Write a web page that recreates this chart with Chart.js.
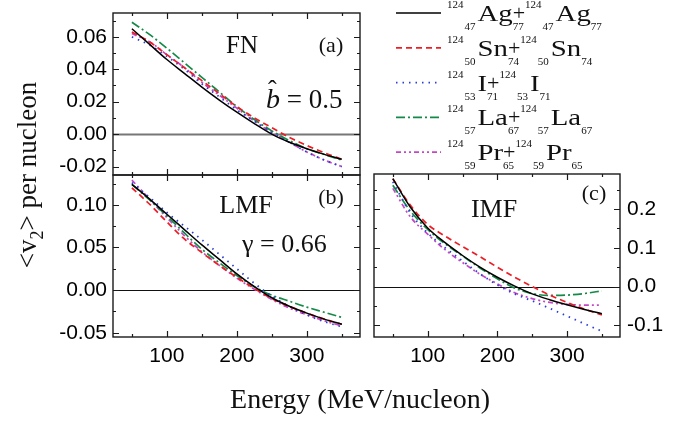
<!DOCTYPE html>
<html>
<head>
<meta charset="utf-8">
<script src="https://cdn.jsdelivr.net/npm/chart.js@4.4.1/dist/chart.umd.min.js"></script>
<style>
  html, body { margin: 0; padding: 0; background: #fff; }
  #wrap { position: relative; width: 689px; height: 421px; }
  #wrap canvas { position: absolute; left: 0; top: 0; }
</style>
</head>
<body>
<div id="wrap">
  <canvas id="panelA" width="689" height="421"></canvas>
  <canvas id="panelB" width="689" height="421"></canvas>
  <canvas id="panelC" width="689" height="421"></canvas>
</div>
<script>
// beam energy (MeV/nucleon)
const ENERGY = [50, 75, 100, 125, 150, 175, 200, 225, 250, 275, 300, 325, 350]

// systems: 124 X + 124 X
const SYMBOLS = ['Ag', 'Sn', 'I', 'La', 'Pr']
const PROTONS = [47, 50, 53, 57, 59]
const NEUTRONS = [77, 74, 71, 67, 65]
const MASS = 124

// (a) FN, b = 0.5
const FN_AG = [0.065, 0.0555, 0.046, 0.0375, 0.029, 0.021, 0.0135, 0.0065, 0.0, -0.005, -0.009, -0.0125, -0.0155]
const FN_SN = [0.063, 0.057, 0.049, 0.041, 0.033, 0.025, 0.017, 0.010, 0.004, -0.002, -0.007, -0.0115, -0.0155]
const FN_I = [0.060, 0.055, 0.048, 0.040, 0.031, 0.023, 0.015, 0.008, 0.001, -0.005, -0.011, -0.016, -0.020]
const FN_LA = [0.069, 0.0615, 0.053, 0.044, 0.035, 0.026, 0.017, 0.009, 0.002, -0.004, -0.009, -0.0125, -0.016]
const FN_PR = [0.062, 0.057, 0.049, 0.041, 0.032, 0.024, 0.016, 0.008, 0.001, -0.005, -0.011, -0.016, -0.020]

// (b) LMF, gamma = 0.66
const LMF_AG = [0.124, 0.107, 0.089, 0.071, 0.053, 0.036, 0.019, 0.004, -0.009, -0.019, -0.027, -0.034, -0.040]
const LMF_SN = [0.120, 0.101, 0.080, 0.060, 0.044, 0.029, 0.015, 0.002, -0.010, -0.019, -0.027, -0.034, -0.040]
const LMF_I = [0.126, 0.109, 0.091, 0.075, 0.059, 0.042, 0.025, 0.008, -0.007, -0.019, -0.029, -0.037, -0.043]
const LMF_LA = [0.124, 0.106, 0.087, 0.067, 0.048, 0.032, 0.017, 0.004, -0.006, -0.013, -0.020, -0.026, -0.032]
const LMF_PR = [0.129, 0.107, 0.085, 0.064, 0.045, 0.029, 0.014, 0.001, -0.011, -0.021, -0.029, -0.036, -0.042]

// (c) IMF
const IMF_AG = [0.278, 0.205, 0.151, 0.113, 0.080, 0.050, 0.024, 0.001, -0.019, -0.034, -0.047, -0.059, -0.070]
const IMF_SN = [0.278, 0.210, 0.160, 0.130, 0.103, 0.077, 0.050, 0.024, 0.000, -0.022, -0.041, -0.058, -0.073]
const IMF_I = [0.270, 0.190, 0.138, 0.100, 0.066, 0.033, 0.004, -0.019, -0.037, -0.056, -0.076, -0.096, -0.115]
const IMF_LA = [0.261, 0.195, 0.147, 0.110, 0.079, 0.048, 0.020, -0.004, -0.018, -0.023, -0.022, -0.018, -0.011]
const IMF_PR = [0.253, 0.180, 0.135, 0.095, 0.062, 0.032, 0.007, -0.016, -0.031, -0.041, -0.046, -0.048, -0.048]

// line styles, one per system
const COLORS = ['#000000', '#ee1c25', '#2a3fd6', '#138a48', '#c447c4']
const DASHES = [[], [6, 4], [1.5, 5], [9, 3, 2, 3], [5, 3, 2, 3, 2, 3]]
const WIDTHS = [1.5, 1.7, 1.8, 1.7, 1.7]

const SANS = '"Liberation Sans", Arial, sans-serif'
const SERIF = '"Liberation Serif", "Times New Roman", serif'

Chart.defaults.font.family = SANS
Chart.defaults.color = '#000'

function buildSets(rows) {
  return rows.map((vals, i) => ({
    label: `${MASS}${SYMBOLS[i]}+${MASS}${SYMBOLS[i]}`,
    data: ENERGY.map((e, j) => ({x: e, y: vals[j]})),
    borderColor: COLORS[i],
    borderDash: DASHES[i],
    borderWidth: WIDTHS[i],
    pointRadius: 0,
    fill: false,
    cubicInterpolationMode: 'monotone',
  }))
}

function fixSize(horizontal, size) {
  return s => {
    if (horizontal) s.height = size
    else s.width = size
    s.paddingTop = s.paddingBottom = s.paddingLeft = s.paddingRight = 0
  }
}

// box, inward major/minor ticks on all four sides, zero line
const framePlugin = {
  id: 'frame',
  beforeDatasetsDraw(chart, args, opts) {
    const {ctx, chartArea: a, scales: {y}} = chart
    const y0 = Math.round(y.getPixelForValue(0)) + 0.5
    ctx.save()
    ctx.strokeStyle = opts.zeroColor
    ctx.lineWidth = opts.zeroWidth
    ctx.beginPath()
    ctx.moveTo(a.left, y0)
    ctx.lineTo(a.right, y0)
    ctx.stroke()
    ctx.restore()
  },
  afterDatasetsDraw(chart) {
    const {ctx, chartArea: a, scales: {x, y}} = chart
    ctx.save()
    ctx.strokeStyle = '#1a1a1a'
    ctx.lineWidth = 1.4
    ctx.strokeRect(a.left, a.top, a.right - a.left, a.bottom - a.top)
    ctx.lineWidth = 1.2
    ctx.beginPath()
    x.ticks.forEach(t => {
      const px = Math.round(x.getPixelForValue(t.value)) + 0.5
      const len = t.label ? 6 : 3
      ctx.moveTo(px, a.bottom)
      ctx.lineTo(px, a.bottom - len)
      ctx.moveTo(px, a.top)
      ctx.lineTo(px, a.top + len)
    })
    y.ticks.forEach(t => {
      const py = Math.round(y.getPixelForValue(t.value)) + 0.5
      const len = t.label ? 6 : 3
      ctx.moveTo(a.left, py)
      ctx.lineTo(a.left + len, py)
      ctx.moveTo(a.right, py)
      ctx.lineTo(a.right - len, py)
    })
    ctx.stroke()
    ctx.restore()
  },
}

// free text inside panels
const notesPlugin = {
  id: 'notes',
  afterDraw(chart, args, opts) {
    const {ctx} = chart
    ctx.save()
    ctx.fillStyle = '#111'
    ;(opts.items || []).forEach(n => {
      ctx.font = n.font
      ctx.textAlign = n.align || 'left'
      ctx.textBaseline = 'alphabetic'
      ctx.fillText(n.text, n.x, n.y)
    })
    ctx.restore()
  },
}

function piece(ctx, text, x, y, font, sx = 1) {
  ctx.font = font
  const w = ctx.measureText(text).width * sx
  ctx.save()
  ctx.translate(x, y)
  ctx.scale(sx, 1)
  ctx.fillText(text, 0, 0)
  ctx.restore()
  return w
}

function nuclide(ctx, x, base, i) {
  const small = `11px ${SERIF}`
  const big = `24px ${SERIF}`
  x += piece(ctx, String(MASS), x, base - 13, small) + 1
  x += piece(ctx, String(PROTONS[i]), x, base + 9, small) + 2
  x += piece(ctx, SYMBOLS[i], x, base, big, 1.2)
  return x
}

// legend, axis titles, b-hat label
const pagePlugin = {
  id: 'page',
  afterDraw(chart) {
    const {ctx} = chart
    ctx.save()
    ctx.fillStyle = '#111'
    ctx.textBaseline = 'alphabetic'
    ctx.textAlign = 'left'
    chart.data.datasets.forEach((ds, i) => {
      const ly = 13 + i * 34.8
      ctx.save()
      ctx.strokeStyle = ds.borderColor
      ctx.lineWidth = ds.borderWidth
      ctx.setLineDash(ds.borderDash)
      ctx.beginPath()
      ctx.moveTo(396, ly)
      ctx.lineTo(441, ly)
      ctx.stroke()
      ctx.restore()
      const base = ly + 8
      let x = nuclide(ctx, 447, base, i)
      const wn = piece(ctx, String(NEUTRONS[i]), x, base + 9, `11px ${SERIF}`)
      const wp = piece(ctx, '+', x, base - 1, `22px ${SERIF}`)
      x += Math.max(wn, wp)
      x = nuclide(ctx, x, base, i)
      piece(ctx, String(NEUTRONS[i]), x, base + 9, `11px ${SERIF}`)
    })

    // b-hat = 0.5
    const bw = piece(ctx, 'b', 266, 108, `italic 28px ${SERIF}`)
    piece(ctx, 'ˆ', 268, 98, `26px ${SERIF}`)
    piece(ctx, ' = 0.5', 266 + bw, 108, `27px ${SERIF}`)

    // x title
    ctx.textAlign = 'center'
    piece(ctx, 'Energy (MeV/nucleon)', 360, 408, `28px ${SERIF}`)

    // y title, rotated, with subscript
    ctx.textAlign = 'left'
    ctx.translate(36, 175)
    ctx.rotate(-Math.PI / 2)
    const f = `27px ${SERIF}`
    const fs = `18px ${SERIF}`
    ctx.font = f
    const w1 = ctx.measureText('<v').width
    const w3 = ctx.measureText('> per nucleon').width
    ctx.font = fs
    const w2 = ctx.measureText('2').width
    let x0 = -(w1 + w2 + w3) / 2
    x0 += piece(ctx, '<v', x0, 0, f)
    x0 += piece(ctx, '2', x0, 7, fs)
    piece(ctx, '> per nucleon', x0, 0, f)
    ctx.restore()
  },
}

function makePanel(id, rows, cfg) {
  return new Chart(document.getElementById(id), {
    type: 'line',
    data: {datasets: buildSets(rows)},
    plugins: cfg.extra ? [framePlugin, notesPlugin, pagePlugin] : [framePlugin, notesPlugin],
    options: {
      responsive: false,
      animation: false,
      devicePixelRatio: 1,
      layout: {padding: cfg.padding},
      plugins: {
        legend: {display: false},
        tooltip: {enabled: false},
        frame: {zeroColor: cfg.zeroColor, zeroWidth: cfg.zeroWidth},
        notes: {items: cfg.notes},
      },
      scales: {
        x: {
          type: 'linear',
          position: 'bottom',
          min: 23,
          max: 376,
          grid: {display: false, drawTicks: false},
          border: {display: false},
          ticks: {
            display: cfg.xHeight > 0,
            stepSize: 50,
            includeBounds: false,
            autoSkip: false,
            maxRotation: 0,
            padding: 7,
            font: {size: 21},
            callback: v => (v % 100 === 0 ? String(v) : ''),
          },
          afterFit: fixSize(true, cfg.xHeight),
        },
        y: {
          type: 'linear',
          position: cfg.yPos,
          min: cfg.yMin,
          max: cfg.yMax,
          grid: {display: false, drawTicks: false},
          border: {display: false},
          ticks: {
            stepSize: cfg.yStep,
            includeBounds: false,
            autoSkip: false,
            padding: cfg.yPos === 'left' ? 6 : 7,
            font: {size: 21},
            callback: cfg.yFmt,
          },
          afterFit: fixSize(false, cfg.yWidth),
        },
      },
    },
  })
}

makePanel('panelA', [FN_AG, FN_SN, FN_I, FN_LA, FN_PR], {
  padding: {left: 0, top: 13, right: 329, bottom: 246},
  xHeight: 0,
  yWidth: 113,
  yPos: 'left',
  yMin: -0.0252,
  yMax: 0.0747,
  yStep: 0.01,
  yFmt: v => (Math.round(v * 100) % 2 === 0 ? (Math.abs(v) < 1e-9 ? '0.00' : v.toFixed(2)) : ''),
  zeroColor: '#777',
  zeroWidth: 1.8,
  extra: true,
  notes: [
    {text: 'FN', x: 242, y: 53, font: `25px ${SERIF}`, align: 'center'},
    {text: '(a)', x: 331, y: 52, font: `22px ${SERIF}`, align: 'center'},
  ],
})

makePanel('panelB', [LMF_AG, LMF_SN, LMF_I, LMF_LA, LMF_PR], {
  padding: {left: 0, top: 175, right: 329, bottom: 0},
  xHeight: 84,
  yWidth: 113,
  yPos: 'left',
  yMin: -0.055,
  yMax: 0.135,
  yStep: 0.025,
  yFmt: v => (Math.round(v * 1000) % 50 === 0 ? (Math.abs(v) < 1e-9 ? '0.00' : v.toFixed(2)) : ''),
  zeroColor: '#111',
  zeroWidth: 1.1,
  notes: [
    {text: 'LMF', x: 246, y: 213, font: `26px ${SERIF}`, align: 'center'},
    {text: '(b)', x: 331, y: 204, font: `22px ${SERIF}`, align: 'center'},
    {text: 'γ = 0.66', x: 242, y: 252, font: `26px ${SERIF}`, align: 'left'},
  ],
})

makePanel('panelC', [IMF_AG, IMF_SN, IMF_I, IMF_LA, IMF_PR], {
  padding: {left: 374, top: 174, right: 0, bottom: 0},
  xHeight: 84,
  yWidth: 69,
  yPos: 'right',
  yMin: -0.13,
  yMax: 0.29,
  yStep: 0.05,
  yFmt: v => (Math.round(v * 100) % 10 === 0 ? (Math.abs(v) < 1e-9 ? '0.0' : v.toFixed(1)) : ''),
  zeroColor: '#111',
  zeroWidth: 1.1,
  notes: [
    {text: 'IMF', x: 494, y: 217, font: `26px ${SERIF}`, align: 'center'},
    {text: '(c)', x: 594, y: 200, font: `22px ${SERIF}`, align: 'center'},
  ],
})
</script>
</body>
</html>
